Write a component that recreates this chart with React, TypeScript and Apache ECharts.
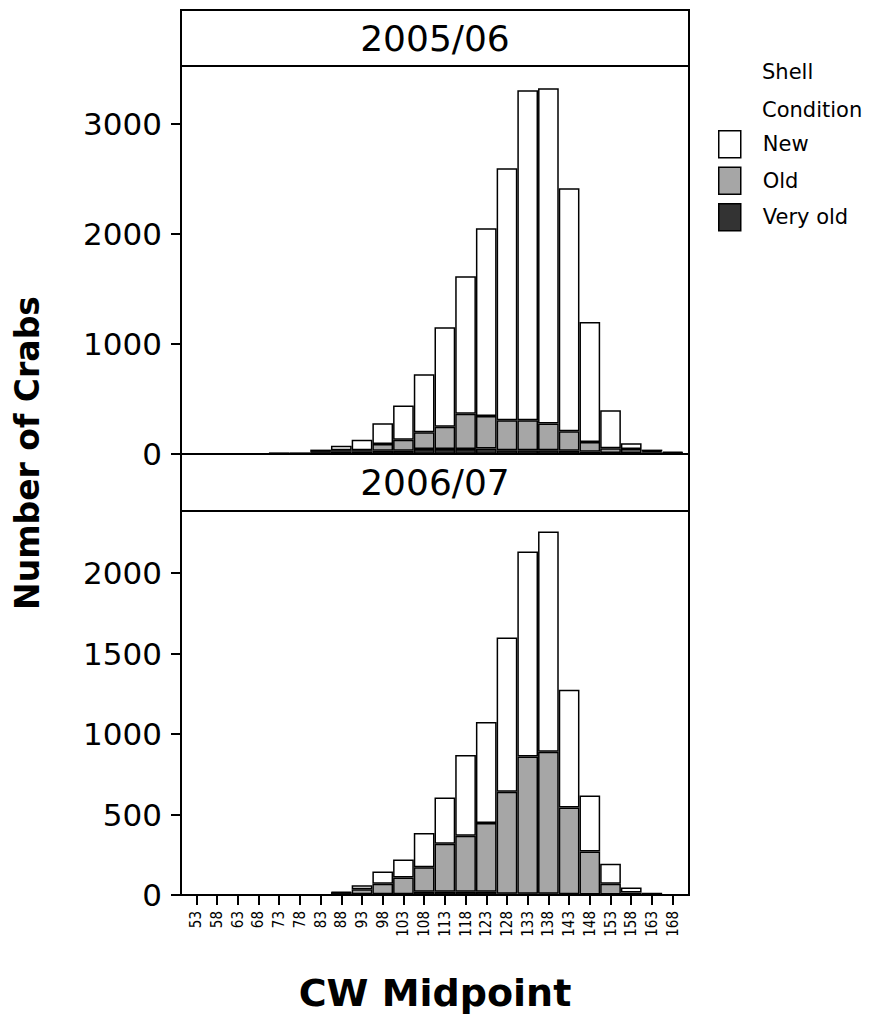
import React, { useEffect, useRef } from "react";
import * as echarts from "echarts";

const FONT = '"DejaVu Sans", sans-serif';
const NARROW = '"Liberation Sans Narrow", "DejaVu Sans Condensed", sans-serif';

const categories = ["53","58","63","68","73","78","83","88","93","98","103","108","113","118","123","128","133","138","143","148","153","158","163","168"];

// 2005/06 (stacked segments)
const topVeryOld = [0,0,0,0,5,5,15,20,20,30,30,45,45,45,50,35,35,35,30,20,10,10,15,8];
const topOld     = [0,0,0,0,0,0,5,15,15,61,100,152,203,322,296,272,272,242,176,90,42,35,10,5];
const topNew     = [0,0,0,0,3,3,20,40,95,188,310,528,904,1249,1706,2290,3000,3048,2210,1090,346,52,15,7];

// 2006/07 (stacked segments)
const botVeryOld = [0,0,0,0,0,0,0,12,5,5,5,20,20,20,20,8,8,8,5,3,3,3,5,0];
const botOld     = [0,0,0,0,0,0,0,3,30,65,103,152,299,348,427,634,852,882,539,268,67,12,3,0];
const botNew     = [0,0,0,0,0,0,0,5,26,76,112,213,287,502,628,958,1274,1368,731,348,124,32,2,0];

const topTicks = [0, 1000, 2000, 3000];
const botTicks = [0, 500, 1000, 1500, 2000];

const panelTitles = ["2005/06", "2006/07"];
const seriesNames = ["New", "Old", "Very old"];
const seriesColors = { New: "#ffffff", Old: "#a6a6a6", "Very old": "#333333" };

export default function App() {
  const ref = useRef<HTMLDivElement>(null);
  useEffect(() => {
    const chart = echarts.init(ref.current!, null, { renderer: "svg" });
    const barStyle = (name: string) => ({
      color: (seriesColors as any)[name],
      borderColor: "#000",
      borderWidth: 1.5,
    });
    const mkSeries = (name: string, data: number[], idx: number) => ({
      type: "bar",
      name,
      xAxisIndex: idx,
      yAxisIndex: idx,
      stack: idx === 0 ? "top" : "bottom",
      barCategoryGap: 0,
      barGap: 0,
      data,
      itemStyle: barStyle(name),
      emphasis: { disabled: true },
    });
    const yAxisCommon = {
      type: "value",
      offset: 5,
      splitLine: { show: false },
      axisLine: { show: true, lineStyle: { color: "#000", width: 2 } },
    };
    const yLabel = (ticks: number[]) => ({
      customValues: ticks,
      fontSize: 31,
      color: "#000",
      fontFamily: FONT,
      margin: 19,
      formatter: (v: number) => String(v),
    });
    const frameStyle = { fill: "none", stroke: "#000", lineWidth: 2 };
    const txt = (text: string, x: number, y: number, font: string, align = "center", extra: any = {}) => ({
      type: "text",
      z: 50,
      x,
      y,
      ...extra,
      style: {
        text,
        font,
        fill: "#000",
        textAlign: align,
        textVerticalAlign: "middle",
        align,
        verticalAlign: "middle",
      },
    });
    chart.setOption({
      animation: false,
      backgroundColor: "#ffffff",
      textStyle: { fontFamily: FONT },
      grid: [
        { left: 186, top: 66, width: 497, height: 388 },
        { left: 186, top: 511, width: 497, height: 384 },
      ],
      xAxis: [
        {
          gridIndex: 0,
          type: "category",
          data: categories,
          axisLine: { show: false },
          axisTick: { show: false },
          axisLabel: { show: false },
        },
        {
          gridIndex: 1,
          type: "category",
          data: categories,
          axisLine: { show: false },
          axisTick: {
            show: true,
            alignWithLabel: true,
            length: 10,
            lineStyle: { color: "#000", width: 2 },
          },
          axisLabel: {
            rotate: 90,
            fontSize: 15,
            color: "#000",
            fontFamily: NARROW,
            margin: 16,
            interval: 0,
          },
        },
      ],
      yAxis: [
        {
          ...yAxisCommon,
          gridIndex: 0,
          min: 0,
          max: 3527,
          interval: 1000,
          axisTick: {
            show: true,
            length: 10,
            lineStyle: { color: "#000", width: 2 },
            customValues: topTicks,
          },
          axisLabel: yLabel(topTicks),
        },
        {
          ...yAxisCommon,
          gridIndex: 1,
          min: 0,
          max: 2386,
          interval: 500,
          axisTick: {
            show: true,
            length: 10,
            lineStyle: { color: "#000", width: 2 },
            customValues: botTicks,
          },
          axisLabel: yLabel(botTicks),
        },
      ],
      legend: {
        data: seriesNames,
        orient: "vertical",
        left: 713,
        top: 125,
        itemWidth: 22,
        itemHeight: 27,
        itemGap: 8,
        selectedMode: false,
        icon: "rect",
        itemStyle: { borderColor: "#000", borderWidth: 1.5 },
        textStyle: {
          fontSize: 21,
          color: "#000",
          fontFamily: FONT,
          padding: [0, 0, 0, 17],
        },
      },
      series: [
        mkSeries("Very old", topVeryOld, 0),
        mkSeries("Old", topOld, 0),
        mkSeries("New", topNew, 0),
        mkSeries("Very old", botVeryOld, 1),
        mkSeries("Old", botOld, 1),
        mkSeries("New", botNew, 1),
      ],
      graphic: [
        { type: "rect", z: 50, shape: { x: 181, y: 10, width: 508, height: 444 }, style: frameStyle },
        { type: "line", z: 50, shape: { x1: 181, y1: 66, x2: 689, y2: 66 }, style: { stroke: "#000", lineWidth: 2 } },
        { type: "rect", z: 50, shape: { x: 181, y: 454, width: 508, height: 441 }, style: frameStyle },
        { type: "line", z: 50, shape: { x1: 181, y1: 511, x2: 689, y2: 511 }, style: { stroke: "#000", lineWidth: 2 } },
        txt(panelTitles[0], 435, 38, `36px ${FONT}`),
        txt(panelTitles[1], 435, 482, `36px ${FONT}`),
        txt("Shell", 762, 72, `21px ${FONT}`, "left"),
        txt("Condition", 762, 110, `21px ${FONT}`, "left"),
        txt("Number of Crabs", 27, 453, `bold 33px ${FONT}`, "center", { rotation: Math.PI / 2 }),
        txt("CW Midpoint", 435, 993, `bold 38px ${FONT}`),
      ],
    });
    return () => chart.dispose();
  }, []);
  return (
    <div
      ref={ref}
      style={{ position: "absolute", left: 0, top: 0, width: 873, height: 1019 }}
    />
  );
}
